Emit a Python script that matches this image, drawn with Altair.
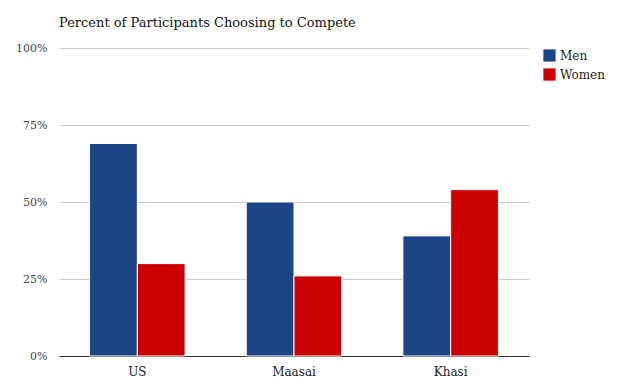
import altair as alt
import pandas as pd

groups = ["US", "Maasai", "Khasi"]
men = [0.69, 0.50, 0.39]
women = [0.30, 0.26, 0.54]
series = ["Men", "Women"]
colors = ["#1c4587", "#cc0000"]

rows = []
for g, m, w in zip(groups, men, women):
    rows.append({"group": g, "gender": "Men", "value": m})
    rows.append({"group": g, "gender": "Women", "value": w})
df = pd.DataFrame(rows)

FONT = "DejaVu Serif"

chart = alt.Chart(df).mark_bar(stroke="white", strokeWidth=1).encode(
    x=alt.X("group:N", sort=groups, title=None,
            scale=alt.Scale(paddingInner=0.39, paddingOuter=0.195),
            axis=alt.Axis(labelAngle=0, ticks=False, domain=True, domainColor="#333333",
                          domainWidth=1, labelFont=FONT, labelFontSize=12,
                          labelColor="#222222", labelPadding=10, grid=False)),
    xOffset=alt.XOffset("gender:N", sort=series),
    y=alt.Y("value:Q", title=None,
            scale=alt.Scale(domain=[0, 1], nice=False),
            axis=alt.Axis(values=[0, 0.25, 0.5, 0.75, 1], format=".0%", ticks=False,
                          domain=False, gridColor="#cccccc", labelFont=FONT,
                          labelFontSize=11, labelColor="#444444", labelPadding=12)),
    color=alt.Color("gender:N", sort=series,
                    scale=alt.Scale(domain=series, range=colors),
                    legend=alt.Legend(title=None, orient="none", legendX=484, legendY=1,
                                      symbolType="square", symbolSize=150,
                                      symbolStrokeWidth=0, labelFont=FONT,
                                      labelFontSize=12, labelColor="#222222",
                                      rowPadding=6)),
).properties(
    width=470, height=308,
    title=alt.TitleParams("Percent of Participants Choosing to Compete", anchor="start",
                          frame="group", font=FONT, fontSize=13, fontWeight="normal",
                          color="#111111", offset=12),
    autosize=alt.AutoSizeParams(type="none"),
    padding={"left": 51, "top": 40, "right": 84, "bottom": 25},
).configure_view(stroke=None)

chart.save("out.html", embed_options={"renderer": "svg", "actions": False})
